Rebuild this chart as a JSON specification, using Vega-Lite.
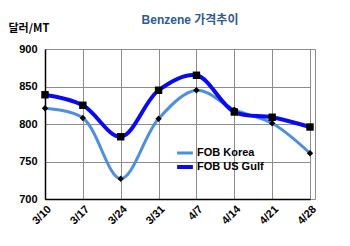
{
  "$schema": "https://vega.github.io/schema/vega-lite/v6.json",
  "width": 270,
  "height": 150,
  "autosize": {"type": "none"},
  "padding": {"left": 45, "top": 49, "right": 35, "bottom": 47},
  "background": "white",
  "title": {
    "text": "Benzene 가격추이",
    "font": "Liberation Sans, Noto Sans CJK KR",
    "fontSize": 12,
    "fontWeight": "bold",
    "color": "#2F5B8F",
    "anchor": "middle",
    "dx": 10,
    "offset": 0,
    "dy": 5
  },
  "data": {
    "values": [
      {"date": "3/10", "series": "FOB Korea", "price": 821},
      {"date": "3/17", "series": "FOB Korea", "price": 808},
      {"date": "3/24", "series": "FOB Korea", "price": 727},
      {"date": "3/31", "series": "FOB Korea", "price": 807},
      {"date": "4/7", "series": "FOB Korea", "price": 845},
      {"date": "4/14", "series": "FOB Korea", "price": 819},
      {"date": "4/21", "series": "FOB Korea", "price": 801},
      {"date": "4/28", "series": "FOB Korea", "price": 761},
      {"date": "3/10", "series": "FOB US Gulf", "price": 839},
      {"date": "3/17", "series": "FOB US Gulf", "price": 825},
      {"date": "3/24", "series": "FOB US Gulf", "price": 783},
      {"date": "3/31", "series": "FOB US Gulf", "price": 845},
      {"date": "4/7", "series": "FOB US Gulf", "price": 865},
      {"date": "4/14", "series": "FOB US Gulf", "price": 816},
      {"date": "4/21", "series": "FOB US Gulf", "price": 809},
      {"date": "4/28", "series": "FOB US Gulf", "price": 796}
    ]
  },
  "encoding": {
    "x": {
      "field": "date",
      "type": "ordinal",
      "sort": null,
      "scale": {"type": "point", "padding": 0, "range": [0, 265]},
      "axis": {
        "title": null,
        "labelAngle": -45,
        "labelFont": "Liberation Sans",
        "labelFontSize": 11,
        "labelFontWeight": "bold",
        "labelColor": "black",
        "domainColor": "black",
        "domainWidth": 1.5,
        "tickSize": 0,
        "labelPadding": 4,
        "grid": true,
        "gridColor": "#8c8c8c",
        "gridWidth": 1
      }
    },
    "y": {
      "field": "price",
      "type": "quantitative",
      "scale": {"domain": [700, 900], "nice": false},
      "axis": {
        "title": "달러/MT",
        "titleAngle": 0,
        "titleFont": "Noto Sans CJK KR",
        "titleFontSize": 11,
        "titleFontWeight": "bold",
        "titleColor": "black",
        "titleAlign": "left",
        "titleBaseline": "middle",
        "titleX": -37,
        "titleY": -21,
        "values": [700, 750, 800, 850, 900],
        "labelFont": "Liberation Sans",
        "labelFontSize": 11,
        "labelFontWeight": "bold",
        "labelColor": "black",
        "labelPadding": 8,
        "domainColor": "black",
        "domainWidth": 1.5,
        "tickSize": 0,
        "grid": true,
        "gridColor": "#8c8c8c",
        "gridWidth": 1
      }
    }
  },
  "layer": [
    {
      "mark": {"type": "line", "interpolate": "catmull-rom"},
      "encoding": {
        "color": {
          "field": "series",
          "type": "nominal",
          "scale": {"domain": ["FOB Korea", "FOB US Gulf"], "range": ["#4F8FDB", "#0A0AF0"]},
          "legend": {
            "title": null,
            "orient": "none",
            "legendX": 130,
            "legendY": 98,
            "symbolType": "stroke",
            "symbolSize": 250,
            "symbolStrokeWidth": 4,
            "clipHeight": 12,
            "labelFont": "Liberation Sans",
            "labelFontSize": 11,
            "labelFontWeight": "bold",
            "labelColor": "black",
            "rowPadding": 2,
            "labelOffset": 2
          }
        },
        "strokeWidth": {
          "field": "series",
          "type": "nominal",
          "scale": {"domain": ["FOB Korea", "FOB US Gulf"], "range": [3, 4]},
          "legend": null
        }
      }
    },
    {
      "transform": [{"filter": "datum.series === 'FOB Korea'"}],
      "mark": {"type": "point", "filled": true, "color": "black", "opacity": 1, "shape": "diamond", "size": 40}
    },
    {
      "transform": [{"filter": "datum.series === 'FOB US Gulf'"}],
      "mark": {"type": "point", "filled": true, "color": "black", "opacity": 1, "shape": "square", "size": 55}
    }
  ],
  "config": {
    "view": {"stroke": "#8c8c8c", "strokeWidth": 1},
    "font": "Liberation Sans"
  }
}
